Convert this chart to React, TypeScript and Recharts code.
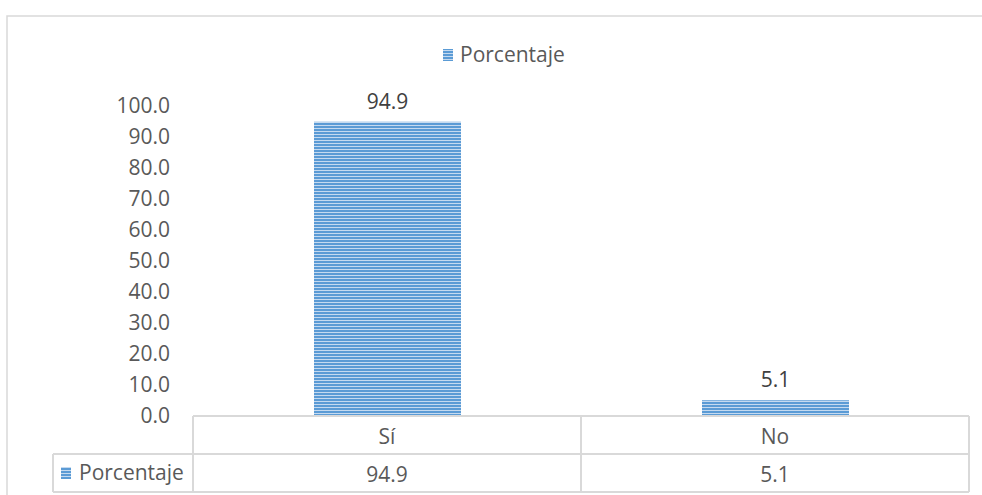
import React from 'react';
import { BarChart, Bar, XAxis, YAxis, LabelList, Customized } from 'recharts';

const categories = ['Sí', 'No'];
const porcentaje = [94.9, 5.1];
const yTicks = [0, 10, 20, 30, 40, 50, 60, 70, 80, 90, 100];
const seriesName = 'Porcentaje';

const data = categories.map((c, i) => ({ categoria: c, valor: porcentaje[i] }));

const FONT = '"Open Sans", Lato, sans-serif';
const FS = 21;
const TEXT = '#595959';
const GRID = '#d9d9d9';

const W = 982;
const H = 495;
const X_AXIS_H = 79;
const Y_AXIS_W = 80;
const MARGIN = { top: 106, right: 13, bottom: 0, left: 113 };
const PLOT_LEFT = MARGIN.left + Y_AXIS_W;
const PLOT_RIGHT = W - MARGIN.right;
const PLOT_BOTTOM = H - MARGIN.bottom - X_AXIS_H;
const TABLE_LEFT = 53;
const ROW1 = 38; // height of category row
const ROW2 = 38; // height of value row

// Category row and value row of the data table below the axis
const TableTick = (props: any) => {
  const { x, y, payload, index } = props;
  return (
    <g>
      <text x={x} y={y + 21} dy="0.35em" textAnchor="middle" fill={TEXT} fontSize={FS} fontFamily={FONT}>
        {payload.value}
      </text>
      <text x={x} y={y + ROW1 + 21} dy="0.35em" textAnchor="middle" fill={TEXT} fontSize={FS} fontFamily={FONT}>
        {porcentaje[index].toFixed(1)}
      </text>
    </g>
  );
};

// Legend, data-table grid lines and the outer frame of the chart
const TableGrid = () => {
  const left = PLOT_LEFT;
  const right = PLOT_RIGHT;
  const top = PLOT_BOTTOM;
  const mid1 = top + ROW1;
  const bottom = mid1 + ROW2;
  const band = (right - left) / categories.length;
  const dividers = categories.slice(1).map((_, i) => left + band * (i + 1));
  const s = { stroke: GRID, strokeWidth: 2, fill: 'none' };
  return (
    <g>
      <path d={`M7 ${H + 5} L7 16 L${W + 5} 16`} stroke={GRID} strokeWidth={1.5} fill="none" />
      {/* legend */}
      <rect x={443} y={49} width={10} height={12} fill="url(#barStripes)" />
      <text x={460} y={55} dy="0.35em" fill={TEXT} fontSize={FS} fontFamily={FONT}>
        {seriesName}
      </text>
      {/* data table */}
      <line x1={left} y1={top} x2={left} y2={bottom} {...s} />
      <line x1={right} y1={top} x2={right} y2={bottom} {...s} />
      {dividers.map((d, i) => (
        <line key={i} x1={d} y1={top} x2={d} y2={bottom} {...s} />
      ))}
      <line x1={TABLE_LEFT} y1={mid1} x2={right} y2={mid1} {...s} />
      <line x1={TABLE_LEFT} y1={bottom} x2={right} y2={bottom} {...s} />
      <line x1={TABLE_LEFT} y1={mid1} x2={TABLE_LEFT} y2={bottom} {...s} />
      <rect x={61} y={mid1 + 13} width={10} height={12} fill="url(#barStripes)" />
      <text x={79} y={mid1 + 19} dy="0.35em" fill={TEXT} fontSize={FS} fontFamily={FONT}>
        {seriesName}
      </text>
    </g>
  );
};

export default function App() {
  return (
    <div style={{ position: 'absolute', left: 0, top: 0, width: W, height: H, background: '#fff' }}>
      <BarChart width={W} height={H} data={data} margin={MARGIN} barSize={147}>
        <defs>
          <pattern id="barStripes" patternUnits="userSpaceOnUse" width={8} height={3}>
            <rect x={0} y={0} width={8} height={3} fill="#c5daf0" />
            <rect x={0} y={0} width={8} height={2} fill="#5b9bd5" />
          </pattern>
        </defs>
        <Customized component={<TableGrid />} />
        <XAxis
          dataKey="categoria"
          axisLine={{ stroke: GRID, strokeWidth: 2 }}
          tickLine={false}
          tickSize={0}
          tickMargin={0}
          height={X_AXIS_H}
          tick={<TableTick />}
          interval={0}
        />
        <YAxis
          domain={[0, 100]}
          ticks={yTicks}
          interval={0}
          axisLine={false}
          tickLine={false}
          tickSize={0}
          tickMargin={23}
          width={Y_AXIS_W}
          tickFormatter={(v: number) => v.toFixed(1)}
          tick={{ fill: TEXT, fontSize: FS, fontFamily: FONT }}
        />
        <Bar dataKey="valor" name={seriesName} fill="url(#barStripes)" isAnimationActive={false}>
          <LabelList
            dataKey="valor"
            position="top"
            offset={13}
            fill="#404040"
            fontSize={FS}
            fontFamily={FONT}
            formatter={(v: any) => Number(v).toFixed(1)}
          />
        </Bar>
      </BarChart>
    </div>
  );
}
